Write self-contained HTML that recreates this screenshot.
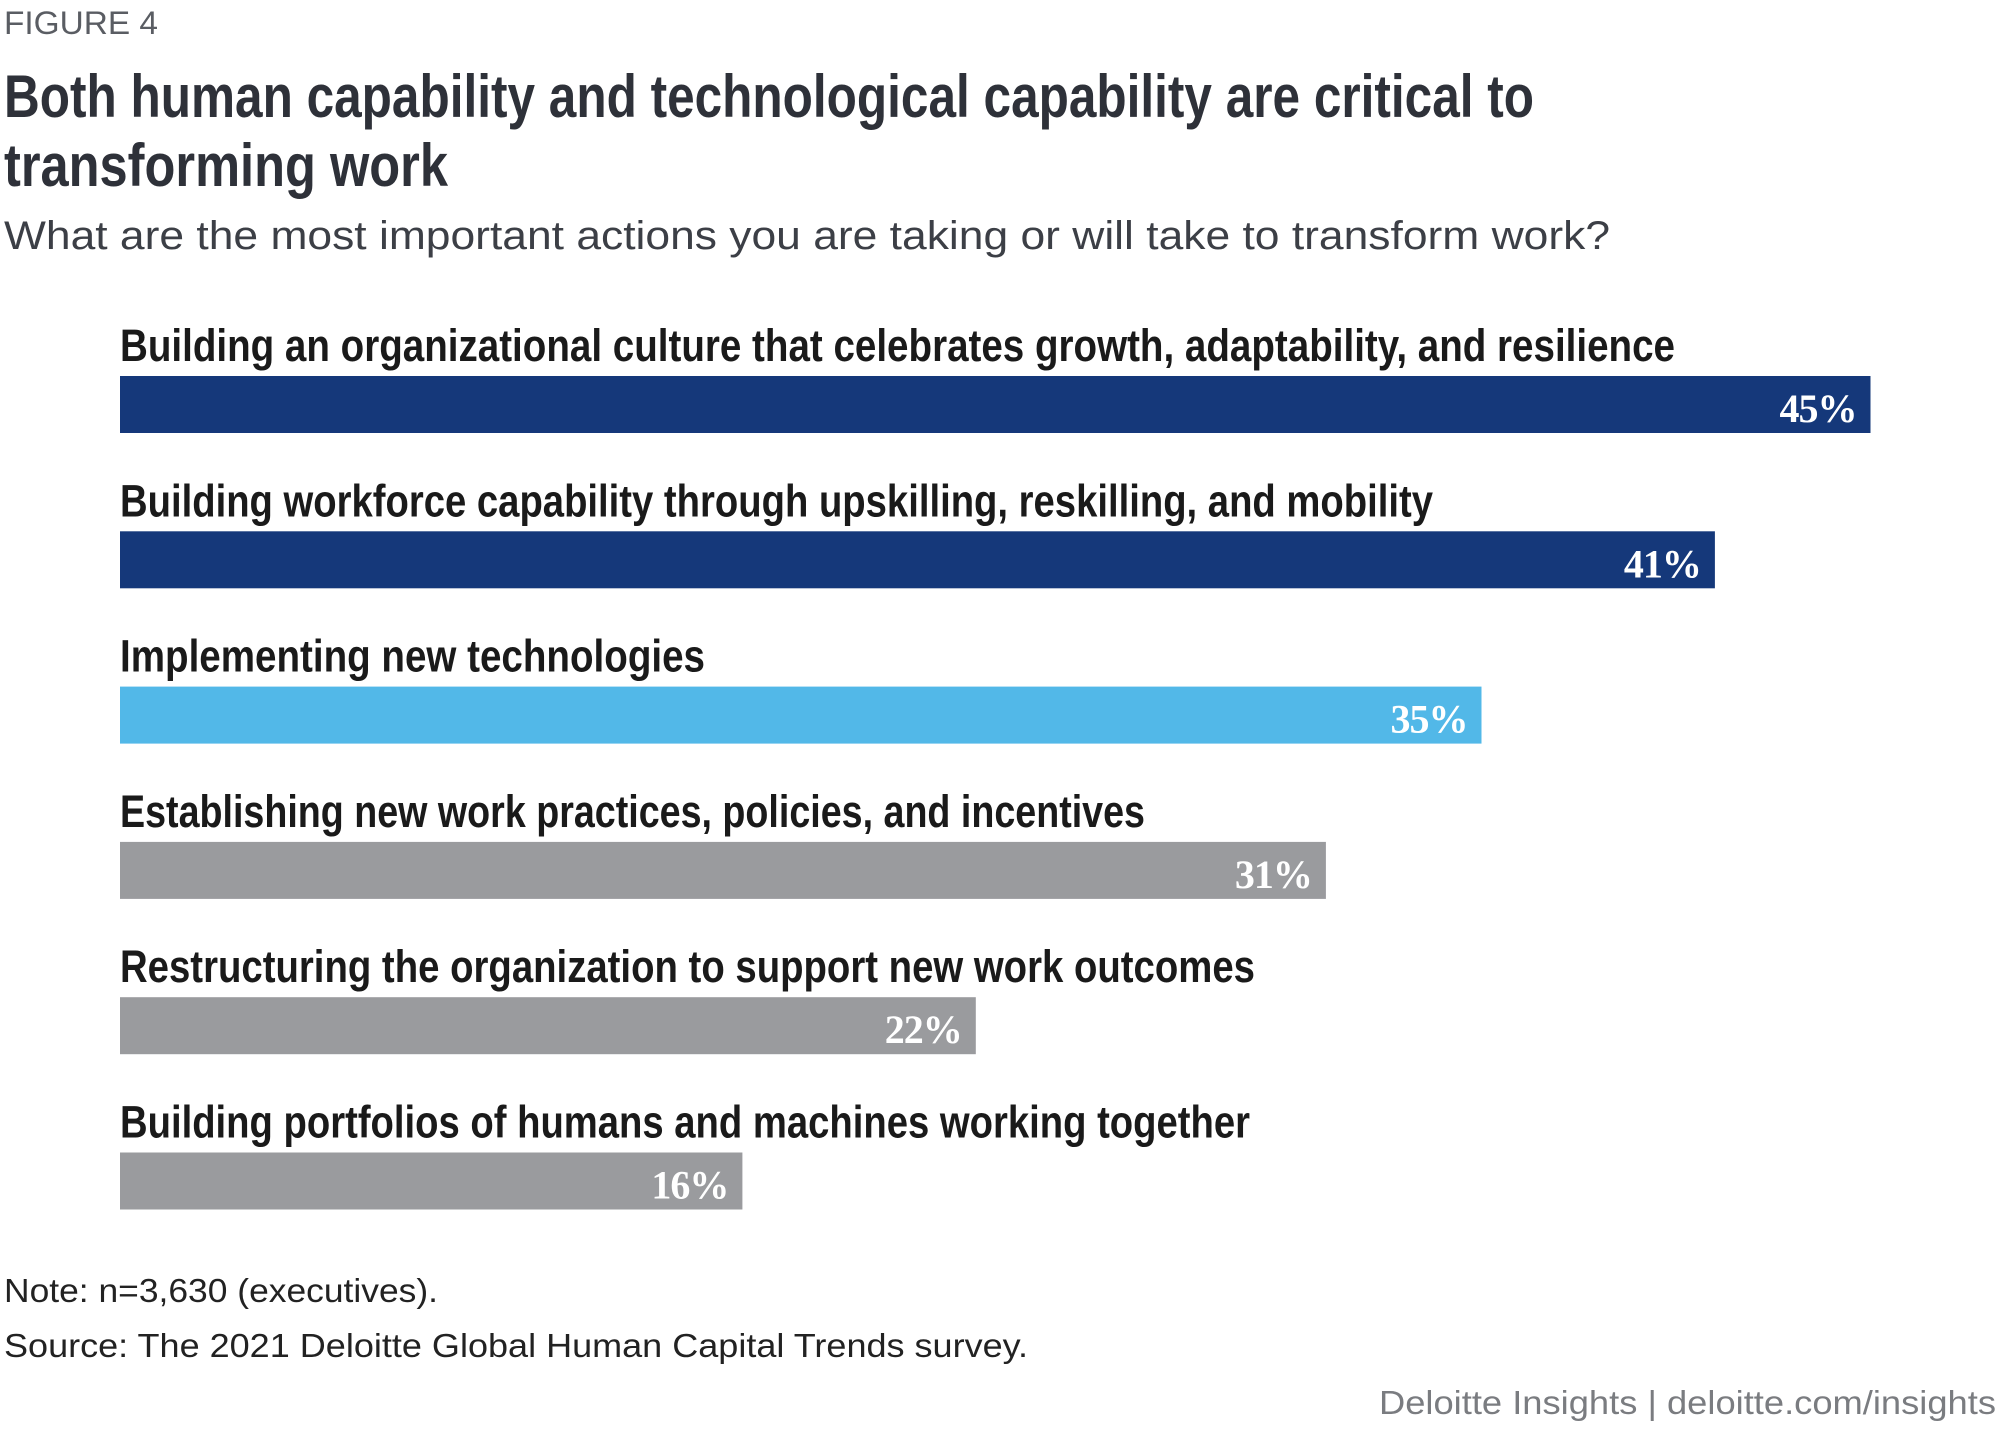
<!DOCTYPE html>
<html><head><meta charset="utf-8"><style>
html,body{margin:0;padding:0;background:#fff;}
svg{display:block;}
</style></head><body>
<svg id="chart" width="2000" height="1444" viewBox="0 0 2000 1444" xmlns="http://www.w3.org/2000/svg">
<text x="4" y="34" font-family="Liberation Sans, sans-serif" font-size="32" fill="#5a5d63" textLength="154" lengthAdjust="spacingAndGlyphs">FIGURE 4</text>
<text x="4" y="117" font-family="Liberation Sans Narrow, Liberation Sans, sans-serif" font-weight="bold" font-size="60" fill="#2e3139" textLength="1530" lengthAdjust="spacingAndGlyphs">Both human capability and technological capability are critical to</text>
<text x="4" y="186" font-family="Liberation Sans Narrow, Liberation Sans, sans-serif" font-weight="bold" font-size="60" fill="#2e3139" textLength="444" lengthAdjust="spacingAndGlyphs">transforming work</text>
<text x="4" y="249" font-family="Liberation Sans, sans-serif" font-size="40" fill="#3c3f46" textLength="1606" lengthAdjust="spacingAndGlyphs">What are the most important actions you are taking or will take to transform work?</text>
<g id="bars"></g>
<text x="4" y="1302" font-family="Liberation Sans, sans-serif" font-size="33" fill="#222" textLength="434" lengthAdjust="spacingAndGlyphs">Note: n=3,630 (executives).</text>
<text x="4" y="1357" font-family="Liberation Sans, sans-serif" font-size="33" fill="#222" textLength="1024" lengthAdjust="spacingAndGlyphs">Source: The 2021 Deloitte Global Human Capital Trends survey.</text>
<text x="1996" y="1414" text-anchor="end" font-family="Liberation Sans, sans-serif" font-size="33" fill="#7a7c80" textLength="617" lengthAdjust="spacingAndGlyphs">Deloitte Insights | deloitte.com/insights</text>
</svg>
<script>
const categories = [
  "Building an organizational culture that celebrates growth, adaptability, and resilience",
  "Building workforce capability through upskilling, reskilling, and mobility",
  "Implementing new technologies",
  "Establishing new work practices, policies, and incentives",
  "Restructuring the organization to support new work outcomes",
  "Building portfolios of humans and machines working together"
];
const values = [45, 41, 35, 31, 22, 16];
const valueLabels = ["45%", "41%", "35%", "31%", "22%", "16%"];
const colors = ["#15387a", "#15387a", "#52b8e8", "#9a9b9e", "#9a9b9e", "#9a9b9e"];
const labelWidths = [1555, 1313, 585, 1025, 1135, 1130];

const NS = "http://www.w3.org/2000/svg";
const x0 = 120, pxPerPct = 38.9;
const xScale = v => x0 + v * pxPerPct;
const rowTop = i => 376 + i * 155.3;
const barH = 57;
const g = document.getElementById("bars");
categories.forEach((c, i) => {
  const y = rowTop(i);
  const lab = document.createElementNS(NS, "text");
  
  
  lab.setAttribute("x", x0);
  lab.setAttribute("y", y - 15);
  lab.setAttribute("font-family", "Liberation Sans Narrow, Liberation Sans, sans-serif");
  lab.setAttribute("font-weight", "bold");
  lab.setAttribute("font-size", "45");
  lab.setAttribute("fill", "#1a1a1a");
  lab.setAttribute("textLength", labelWidths[i]);
  lab.setAttribute("lengthAdjust", "spacingAndGlyphs");
  lab.textContent = c;
  g.appendChild(lab);
  const r = document.createElementNS(NS, "rect");
  
  
  r.setAttribute("x", x0);
  r.setAttribute("y", y);
  r.setAttribute("width", xScale(values[i]) - x0);
  r.setAttribute("height", barH);
  r.setAttribute("fill", colors[i]);
  g.appendChild(r);
  const v = document.createElementNS(NS, "text");
  
  
  v.setAttribute("x", xScale(values[i]) - 14);
  v.setAttribute("y", y + barH - 11);
  v.setAttribute("text-anchor", "end");
  v.setAttribute("font-family", "Liberation Serif, serif");
  v.setAttribute("font-weight", "bold");
  v.setAttribute("font-size", "40");
  v.setAttribute("letter-spacing", "-1");
  v.setAttribute("fill", "#ffffff");
  v.textContent = valueLabels[i];
  g.appendChild(v);
});
</script>
</body></html>
